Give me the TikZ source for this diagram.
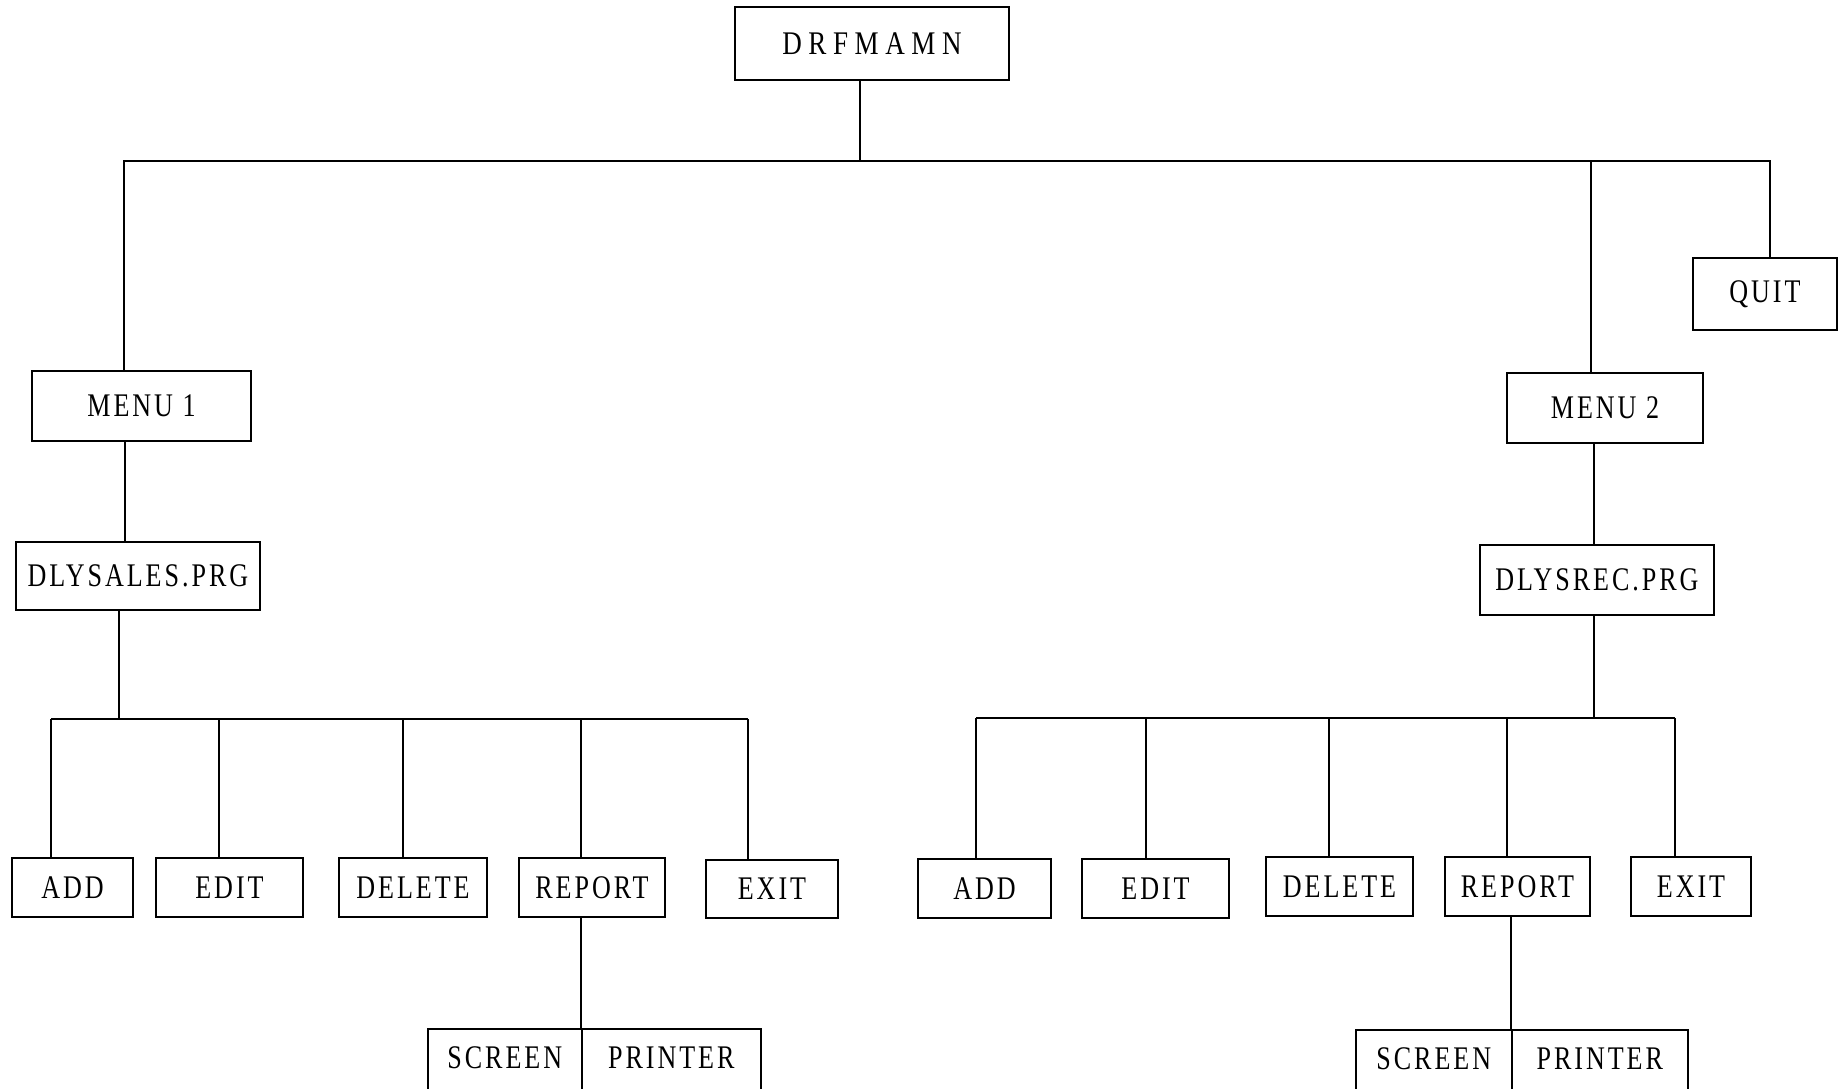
\documentclass[tikz,border=0pt]{standalone}
\usepackage{fontspec}
\setmainfont{Liberation Serif}[LetterSpace=9,FakeStretch=0.79]
\newfontfamily\widefont{Liberation Serif}[LetterSpace=20,FakeStretch=0.82]
\begin{document}
\begin{tikzpicture}[x=1pt,y=-1pt,
  box/.style={draw, line width=1.6pt, inner sep=0pt, font=\fontsize{33}{36}\selectfont},
  sp/.style={box, anchor=north west, text height=40pt, text depth=40pt},
  wire/.style={line width=1.6pt}]
\useasboundingbox (0,0) rectangle (1848,1088);
\fill[white] (0,0) rectangle (1848,1088);
\begin{scope}
\clip (0,0) rectangle (1848,1088);
% top levels
\node[box, minimum width=274pt, minimum height=73pt, font=\fontsize{33}{36}\widefont] (top) at (872,43.5) {DRFMAMN};
\node[box, minimum width=219pt, minimum height=70pt] (menu1) at (141.5,406) {MENU 1};
\node[box, minimum width=244pt, minimum height=68pt] (dlysales) at (138,576) {DLYSALES.PRG};
\node[box, minimum width=144pt, minimum height=72pt] (quit) at (1765,294) {QUIT};
\node[box, minimum width=196pt, minimum height=70pt] (menu2) at (1605,408) {MENU 2};
\node[box, minimum width=234pt, minimum height=70pt] (dlysrec) at (1597,580) {DLYSREC.PRG};
% left row
\node[box, minimum width=121pt, minimum height=59pt] (ladd) at (72.5,887.5) {ADD};
\node[box, minimum width=147pt, minimum height=59pt] (ledit) at (229.5,887.5) {EDIT};
\node[box, minimum width=148pt, minimum height=59pt] (ldel) at (413,887.5) {DELETE};
\node[box, minimum width=146pt, minimum height=59pt] (lrep) at (592,887.5) {REPORT};
\node[box, minimum width=132pt, minimum height=58pt] (lexit) at (772,889) {EXIT};
% right row
\node[box, minimum width=133pt, minimum height=59pt] (radd) at (984.5,888.5) {ADD};
\node[box, minimum width=147pt, minimum height=59pt] (redit) at (1155.5,888.5) {EDIT};
\node[box, minimum width=147pt, minimum height=59pt] (rdel) at (1339.5,886.5) {DELETE};
\node[box, minimum width=145pt, minimum height=59pt] (rrep) at (1517.5,886.5) {REPORT};
\node[box, minimum width=120pt, minimum height=59pt] (rexit) at (1691,886.5) {EXIT};
% screen / printer
\node[sp, minimum width=154pt] (lscr) at (427,1028) {SCREEN};
\node[sp, minimum width=179pt] (lprn) at (581,1028) {PRINTER};
\node[sp, minimum width=156pt] (rscr) at (1355,1029) {SCREEN};
\node[sp, minimum width=176pt] (rprn) at (1511,1029) {PRINTER};
% junction coordinates
\coordinate (j0) at (860,161);
\coordinate (bl) at (124,161);
\coordinate (br) at (1770,161);
\coordinate (jm2) at (1591,161);
\coordinate (c1) at (125,0);
\coordinate (lb) at (119,719);
\coordinate (l1) at (51,719);
\coordinate (l2) at (219,719);
\coordinate (l3) at (403,719);
\coordinate (l4) at (581,719);
\coordinate (l5) at (748,719);
\coordinate (c2) at (1594,0);
\coordinate (rb) at (1594,718);
\coordinate (r1) at (976,718);
\coordinate (r2) at (1146,718);
\coordinate (r3) at (1329,718);
\coordinate (r4) at (1507,718);
\coordinate (r5) at (1675,718);
% connectors
\draw[wire] (top.south -| j0) -- (j0);
\draw[wire] (bl |- menu1.north) -- (bl) -- (br) -- (br |- quit.north);
\draw[wire] (jm2) -- (jm2 |- menu2.north);
\draw[wire] (c1 |- menu1.south) -- (c1 |- dlysales.north);
\draw[wire] (lb |- dlysales.south) -- (lb);
\draw[wire] (l1) -- (l5);
\draw[wire] (l1) -- (l1 |- ladd.north);
\draw[wire] (l2) -- (l2 |- ledit.north);
\draw[wire] (l3) -- (l3 |- ldel.north);
\draw[wire] (l4) -- (l4 |- lrep.north);
\draw[wire] (l5) -- (l5 |- lexit.north);
\draw[wire] (lrep.south -| lprn.north west) -- (lprn.north west);
\draw[wire] (c2 |- menu2.south) -- (c2 |- dlysrec.north);
\draw[wire] (rb |- dlysrec.south) -- (rb);
\draw[wire] (r1) -- (r5);
\draw[wire] (r1) -- (r1 |- radd.north);
\draw[wire] (r2) -- (r2 |- redit.north);
\draw[wire] (r3) -- (r3 |- rdel.north);
\draw[wire] (r4) -- (r4 |- rrep.north);
\draw[wire] (r5) -- (r5 |- rexit.north);
\draw[wire] (rrep.south -| rprn.north west) -- (rprn.north west);
\end{scope}
\end{tikzpicture}
\end{document}
